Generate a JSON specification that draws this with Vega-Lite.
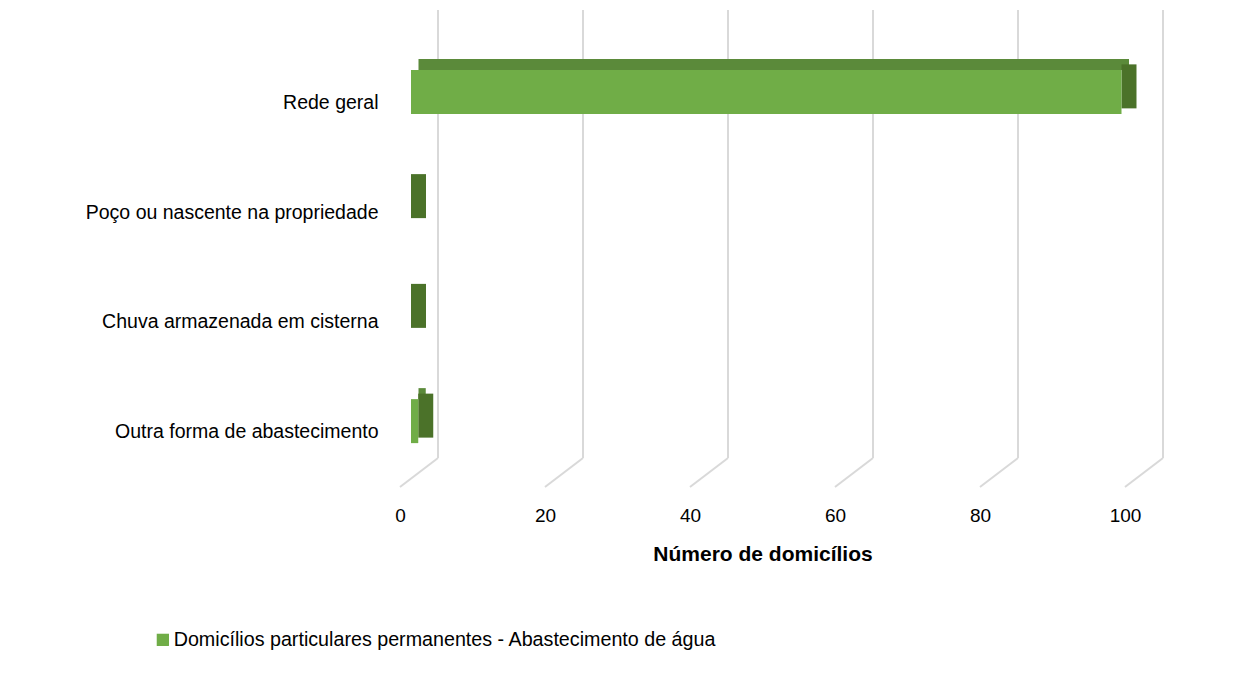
{
  "$schema": "https://vega.github.io/schema/vega-lite/v6.json",
  "width": 725,
  "height": 439,
  "autosize": {"type": "none"},
  "padding": {"left": 400, "top": 48, "right": 114, "bottom": 197},
  "background": "white",
  "config": {
    "view": {"stroke": null},
    "font": "Liberation Sans Narrow, Arial Narrow, Liberation Sans, sans-serif",
    "axisX": {
      "domain": false,
      "ticks": false,
      "grid": false,
      "labelFontSize": 19,
      "labelColor": "#000000",
      "labelPadding": 19,
      "labelFlush": false,
      "titleFontSize": 21,
      "titleFontWeight": "bold",
      "titleColor": "#000000",
      "titlePadding": 18
    },
    "axisY": {
      "domain": false,
      "ticks": false,
      "grid": false,
      "labelFontSize": 19.5,
      "labelColor": "#000000",
      "labelPadding": 22,
      "labelLimit": 400,
      "title": null
    }
  },
  "datasets": {
    "abastecimento": [
      {"categoria": "Rede geral", "valor": 98, "serie": "Domicílios particulares permanentes - Abastecimento de água"},
      {"categoria": "Poço ou nascente na propriedade", "valor": 0, "serie": "Domicílios particulares permanentes - Abastecimento de água"},
      {"categoria": "Chuva armazenada em cisterna", "valor": 0, "serie": "Domicílios particulares permanentes - Abastecimento de água"},
      {"categoria": "Outra forma de abastecimento", "valor": 1, "serie": "Domicílios particulares permanentes - Abastecimento de água"}
    ],
    "grade": [{"v": 0}, {"v": 20}, {"v": 40}, {"v": 60}, {"v": 80}, {"v": 100}]
  },
  "layer": [
    {
      "data": {"name": "grade"},
      "layer": [
        {
          "mark": {"type": "rule", "color": "#d9d9d9", "strokeWidth": 2, "xOffset": 38, "yOffset": -29, "y2Offset": -38},
          "encoding": {
            "x": {"field": "v", "type": "quantitative", "scale": {"domain": [0, 100], "nice": false}, "axis": {"values": [0, 20, 40, 60, 80, 100], "title": "Número de domicílios"}},
            "y": {"datum": 0, "type": "quantitative", "scale": {"domain": [0, 1], "nice": false}, "axis": null},
            "y2": {"datum": 1}
          }
        },
        {
          "mark": {"type": "rule", "color": "#d9d9d9", "strokeWidth": 2, "x2Offset": 38, "y2Offset": -29},
          "encoding": {
            "x": {"field": "v", "type": "quantitative"},
            "x2": {"field": "v"},
            "y": {"datum": 0, "type": "quantitative", "scale": {"domain": [0, 1], "nice": false}, "axis": null},
            "y2": {"datum": 0}
          }
        }
      ]
    },
    {
      "data": {"name": "abastecimento"},
      "encoding": {
        "y": {
          "field": "categoria",
          "type": "nominal",
          "sort": ["Rede geral", "Poço ou nascente na propriedade", "Chuva armazenada em cisterna", "Outra forma de abastecimento"],
          "scale": {"paddingInner": 0, "paddingOuter": 0}
        }
      },
      "layer": [
        {
          "mark": {"type": "bar", "color": "#5b8a3a", "height": 11, "xOffset": 18.5, "x2Offset": 18.5, "yOffset": -38.5},
          "encoding": {
            "x": {"field": "valor", "type": "quantitative"}
          }
        },
        {
          "mark": {"type": "bar", "color": "#4b7229", "height": 44, "xOffset": 11, "x2Offset": 26, "yOffset": -16.5},
          "encoding": {
            "x": {"field": "valor", "type": "quantitative"},
            "x2": {"field": "valor"}
          }
        },
        {
          "mark": {"type": "bar", "height": 44, "xOffset": 11, "x2Offset": 11, "yOffset": -11},
          "encoding": {
            "x": {"field": "valor", "type": "quantitative"},
            "color": {
              "field": "serie",
              "type": "nominal",
              "scale": {"range": ["#70ad47"]},
              "legend": {
                "title": null,
                "orient": "none",
                "legendX": -247,
                "legendY": 582,
                "symbolType": "square",
                "symbolSize": 150,
                "symbolStrokeWidth": 0,
                "labelFontSize": 19.7,
                "labelColor": "#000000",
                "labelOffset": 1,
                "labelLimit": 800
              }
            }
          }
        }
      ]
    }
  ],
  "resolve": {"scale": {"y": "independent"}}
}
